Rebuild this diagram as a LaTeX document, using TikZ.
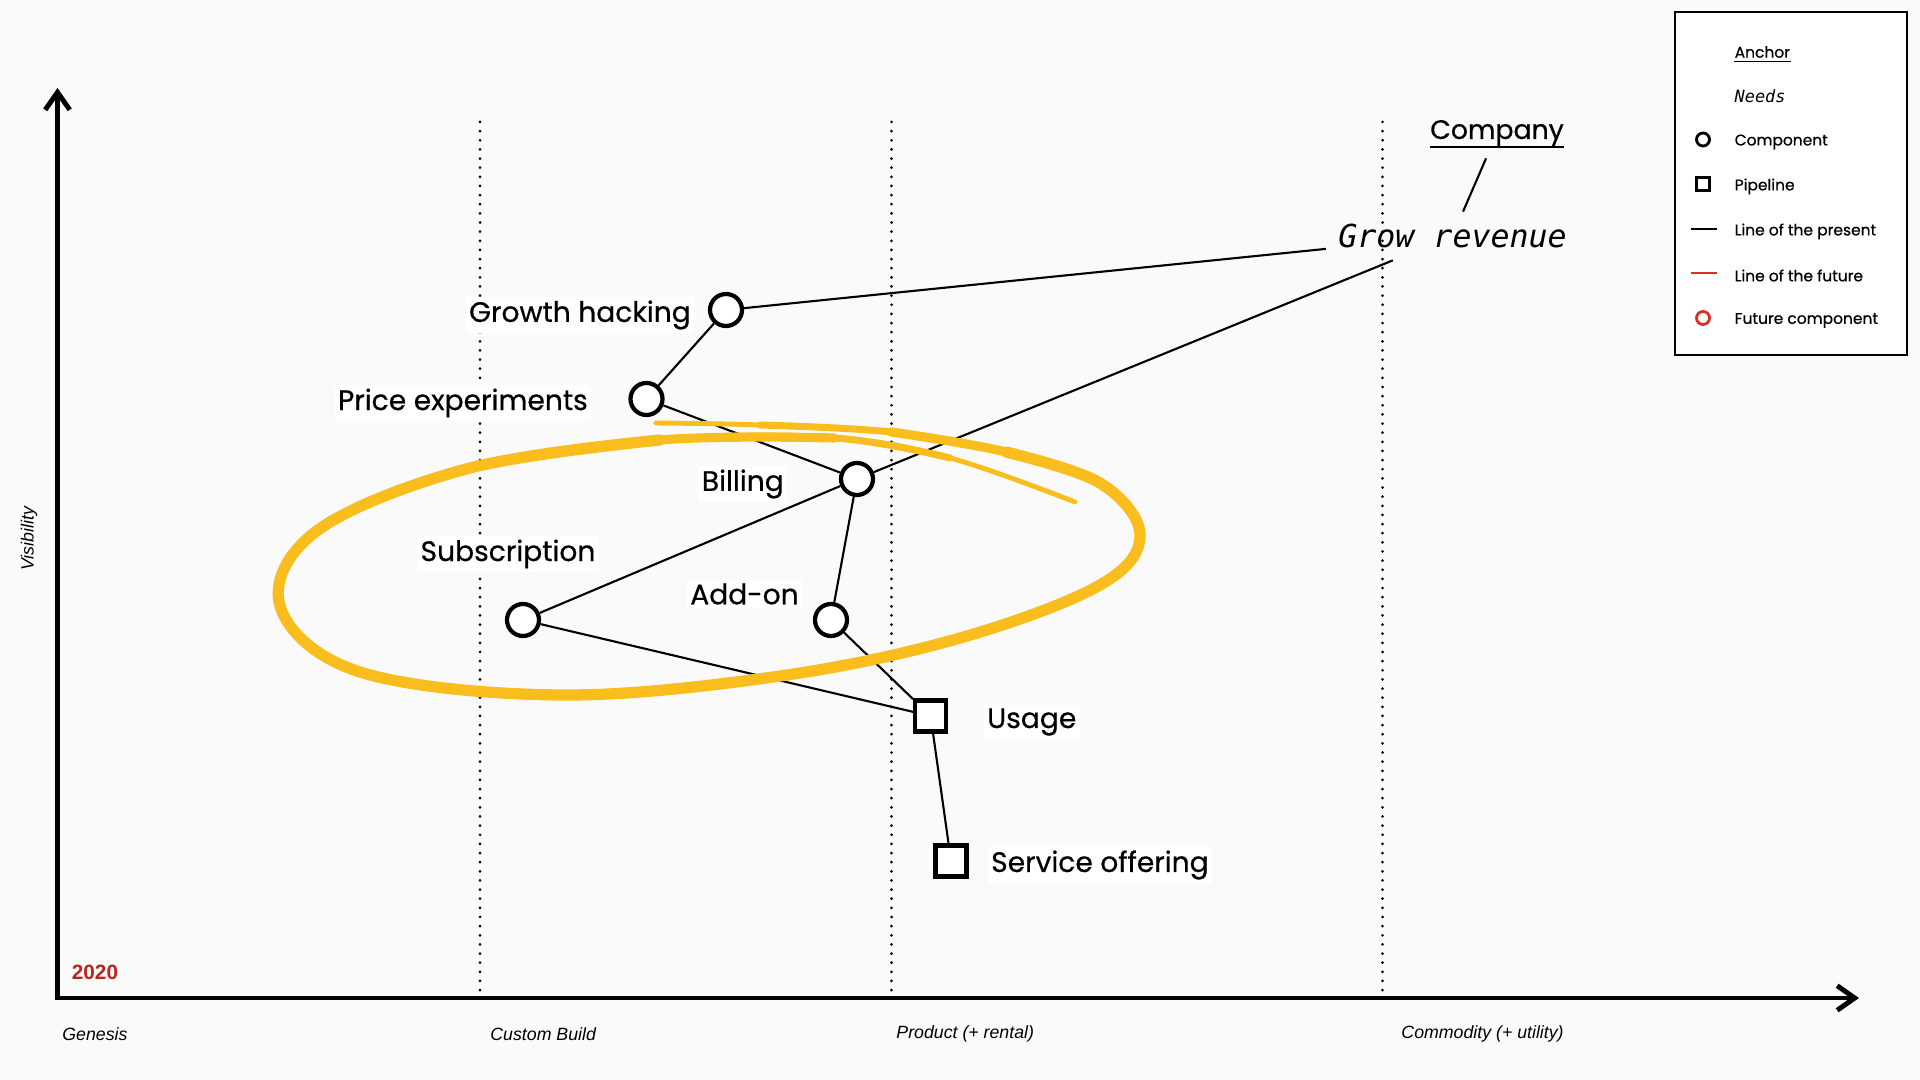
\documentclass[tikz,border=0pt]{standalone}
\usepackage{fontspec}
\setmainfont{Poppins}
\setsansfont{Liberation Sans}
\newfontfamily\monofont{DejaVu Sans Mono}
\newfontfamily\labelfont{Poppins}[FakeBold=0.6]
\usetikzlibrary{arrows.meta}
\definecolor{paper}{HTML}{FAFAFA}
\definecolor{marker}{RGB}{249,190,30}
\definecolor{future}{HTML}{D93025}
\definecolor{yearred}{HTML}{B8261E}
\tikzset{
  comp/.style={circle, draw, line width=1.2pt, fill=white, minimum size=0.32cm, inner sep=0pt},
  pipe/.style={rectangle, draw, line width=1.2pt, fill=white, minimum size=0.31cm, inner sep=0pt},
  lbl/.style={fill=white, inner sep=1pt, font=\labelfont\fontsize{8}{9}\selectfont},
  link/.style={line width=0.6pt},
  stage/.style={anchor=west, font=\sffamily\itshape\fontsize{5.05}{6}\selectfont},
  evo/.style={dash pattern=on 0pt off 2.6pt, line cap=round, line width=0.85pt},
  keytext/.style={anchor=west, inner sep=0pt, font=\labelfont\fontsize{4.4}{5}\selectfont},
  hl/.style={draw=marker, line cap=round, line join=round},
}
\begin{document}
\begin{tikzpicture}
\useasboundingbox[fill=paper] (0,0) rectangle (19.2,10.8);
% axes and stages
\draw[line width=1.4pt, {Straight Barb[length=5pt, width=7pt]}-{Straight Barb[length=5pt, width=7pt]}] (0.575,9.92) -- (0.575,0.82) -- (18.59,0.82);
\draw[evo] (4.80,9.58) -- (4.80,0.86);
\draw[evo] (8.915,9.58) -- (8.915,0.86);
\draw[evo] (13.825,9.58) -- (13.825,0.86);
\node[stage] (genesis) at (0.50,0.46) {Genesis};
\node[stage] (custom) at (4.78,0.46) {Custom Build};
\node[stage] (product) at (8.84,0.46) {Product (+ rental)};
\node[stage] (commodity) at (13.89,0.46) {Commodity (+ utility)};
\node[rotate=90, font=\sffamily\itshape\fontsize{5.05}{6}\selectfont] (visibility) at (0.29,5.41) {Visibility};
\node[text=yearred, font=\sffamily\bfseries\fontsize{5.9}{7}\selectfont] (year) at (0.95,1.08) {2020};

% anchor and need
\node[inner xsep=0pt, font=\labelfont\fontsize{7.6}{9}\selectfont] (company) at (14.97,9.47) {Company};
\draw[line width=0.5pt] ([yshift=-2.2pt]company.base west) -- ([yshift=-2.2pt]company.base east);
\node[font=\monofont\itshape\fontsize{9}{10}\selectfont] (grow) at (14.525,8.44) {Grow revenue};
\draw[link] (company) -- (grow);

% components
\node[comp] (growth) at (7.26,7.70) {};
\node[comp] (price) at (6.465,6.81) {};
\node[comp] (billing) at (8.57,6.01) {};
\node[comp] (subscr) at (5.23,4.60) {};
\node[comp] (addon) at (8.31,4.60) {};
\node[pipe] (usage) at (9.306,3.64) {};
\node[pipe] (service) at (9.51,2.19) {};

\node[lbl, anchor=east] (growthlbl) at (6.95,7.65) {Growth hacking};
\node[lbl, anchor=east] (pricelbl) at (5.92,6.77) {Price experiments};
\node[lbl, anchor=east] (billinglbl) at (7.88,5.96) {Billing};
\node[lbl] (subscrlbl) at (5.08,5.26) {Subscription};
\node[lbl] (addonlbl) at (7.445,4.86) {Add-on};
\node[lbl, anchor=west] (usagelbl) at (9.83,3.58) {Usage};
\node[lbl, anchor=west] (servicelbl) at (9.87,2.15) {Service offering};

\draw[link] (grow) -- (growth);
\draw[link] (grow) -- (billing);
\draw[link] (growth) -- (price);
\draw[link] (price) -- (billing);
\draw[link] (billing) -- (subscr);
\draw[link] (billing) -- (addon);
\draw[link] (subscr) -- (usage);
\draw[link] (addon) -- (usage);
\draw[link] (usage) -- (service);

% highlight
\draw[hl, line width=1.4pt] plot[smooth, tension=0.6] coordinates {(6.56,6.57) (7.60,6.55) (8.91,6.48) (10.06,6.28) (11.00,5.97) (11.40,5.45) (11.00,4.95) (9.60,4.42) (7.80,4.04) (5.60,3.85) (3.60,4.08) (2.80,4.74) (3.18,5.50) (4.70,6.12) (6.60,6.40) (8.34,6.42) (9.50,6.22) (10.75,5.78)};
\draw[hl, line width=2.0pt] plot[smooth, tension=0.6] coordinates {(7.60,6.55) (8.91,6.48) (10.06,6.28) (11.00,5.97) (11.40,5.45) (11.00,4.95) (9.60,4.42) (7.80,4.04) (5.60,3.85) (3.60,4.08) (2.80,4.74) (3.18,5.50) (4.70,6.12) (6.60,6.40) (8.34,6.42) (9.50,6.22)};
\draw[hl, line width=2.6pt] plot[smooth, tension=0.6] coordinates {(8.91,6.48) (10.06,6.28) (11.00,5.97) (11.40,5.45) (11.00,4.95) (9.60,4.42) (7.80,4.04) (5.60,3.85) (3.60,4.08) (2.80,4.74) (3.18,5.50) (4.70,6.12) (6.60,6.40) (8.34,6.42)};
\draw[hl, line width=3.2pt] plot[smooth, tension=0.6] coordinates {(10.06,6.28) (11.00,5.97) (11.40,5.45) (11.00,4.95) (9.60,4.42) (7.80,4.04) (5.60,3.85) (3.60,4.08) (2.80,4.74) (3.18,5.50) (4.70,6.12) (6.60,6.40)};

% legend
\draw[line width=0.7pt, fill=white] (16.75,10.68) rectangle (19.07,7.25);
\node[keytext] (keyanchor) at (17.34,10.28) {Anchor};
\draw[line width=0.3pt] ([yshift=-1.2pt]keyanchor.base west) -- ([yshift=-1.2pt]keyanchor.base east);
\node[keytext, font=\monofont\itshape\fontsize{4.8}{5}\selectfont] (keyneeds) at (17.34,9.84) {Needs};
\node[comp, line width=0.8pt, minimum size=0.13cm] (keycompdot) at (17.03,9.405) {};
\node[keytext] (keycomp) at (17.34,9.38) {Component};
\node[pipe, line width=0.8pt, minimum size=0.13cm] (keypipebox) at (17.03,8.96) {};
\node[keytext] (keypipe) at (17.34,8.935) {Pipeline};
\draw[line width=0.5pt] (16.91,8.51) -- (17.17,8.51);
\node[keytext] (keypresent) at (17.34,8.485) {Line of the present};
\draw[future, line width=0.5pt] (16.91,8.07) -- (17.17,8.07);
\node[keytext] (keyfuture) at (17.34,8.045) {Line of the future};
\node[comp, draw=future, line width=0.8pt, minimum size=0.13cm] (keyfuturedot) at (17.03,7.62) {};
\node[keytext] (keyfuturecomp) at (17.34,7.595) {Future component};
\end{tikzpicture}
\end{document}
